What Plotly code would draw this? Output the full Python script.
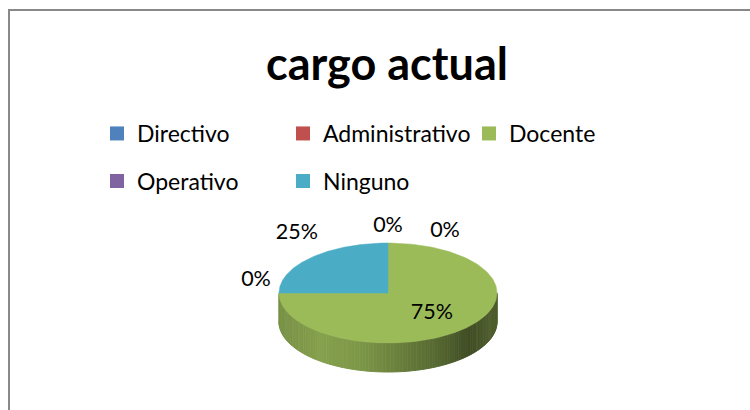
import numpy as np
import plotly.graph_objects as go

# ---- data ----
categories = ["Directivo", "Administrativo", "Docente", "Operativo", "Ninguno"]
percentages = [0, 0, 75, 0, 25]
colors = ["#4F81BD", "#C0504D", "#9BBB59", "#8064A2", "#4BACC6"]
title_text = "cargo actual"

# ---- style / geometry (pixels) ----
W, H = 750, 410
CX, CY, A, B = 388, 293, 109, 50
DEPTH = 29
FONT = "Lato"
label_nudge = [(0, -16), (57, -11), None, (-23, -12), (-14, -24)]
inside_k = 0.57

total = float(sum(percentages))
fracs = [v / total for v in percentages]
cum = np.concatenate([[0], np.cumsum(fracs)])


def ell(phi_deg, k=1.0):
    p = np.radians(phi_deg)
    return CX + A * k * np.cos(p), CY - B * k * np.sin(p)


def phi_of(c):
    return 90.0 - 360.0 * c


def slice_at(c):
    for i in range(len(fracs)):
        if cum[i] <= c < cum[i + 1] and fracs[i] > 0:
            return i
    return None


def hex_rgb(h):
    h = h.lstrip("#")
    return tuple(int(h[i:i + 2], 16) for i in (0, 2, 4))


fig = go.Figure()

# side (3D rim) - front half only
t_knots = [0, .05, .19, .37, .55, .74, .87, .96, 1]
f_knots = [.78, .79, .86, .81, .68, .55, .41, .48, .50]
NS = 120
phis = np.linspace(180, 360, NS + 1)
for j in range(NS):
    p0, p1 = phis[j], phis[j + 1]
    pm = 0.5 * (p0 + p1)
    c = ((90 - pm) % 360) / 360.0
    i = slice_at(c)
    if i is None:
        continue
    arc = np.linspace(p0, p1, 4)
    xs, ys = ell(arc)
    xm, _ = ell(pm)
    t = (xm - (CX - A)) / (2 * A)
    f = np.interp(t, t_knots, f_knots)
    r, g, b = hex_rgb(colors[i])
    col = "rgb(%d,%d,%d)" % (r * f, g * f, b * f)
    px = list(xs) + list(xs[::-1])
    py = list(ys) + list((ys + DEPTH)[::-1])
    fig.add_trace(go.Scatter(x=px, y=py, mode="lines", fill="toself",
                             fillcolor=col, line=dict(color=col, width=1),
                             hoverinfo="skip", showlegend=False))

# top face slices
for i, fr in enumerate(fracs):
    if fr <= 0:
        continue
    arc = np.linspace(phi_of(cum[i]), phi_of(cum[i + 1]), 200)
    xs, ys = ell(arc)
    px = [CX] + list(xs) + [CX]
    py = [CY] + list(ys) + [CY]
    fig.add_trace(go.Scatter(x=px, y=py, mode="lines", fill="toself",
                             fillcolor=colors[i], line=dict(color=colors[i], width=0.5),
                             name=categories[i], hoverinfo="name", showlegend=False))

# data labels
lx, ly, lt = [], [], []
for i, fr in enumerate(fracs):
    pm = phi_of(0.5 * (cum[i] + cum[i + 1]))
    if label_nudge[i] is None:
        x, y = ell(pm, inside_k)
    else:
        x, y = ell(pm)
        x += label_nudge[i][0]
        y += label_nudge[i][1]
    lx.append(x)
    ly.append(y)
    lt.append("%d%%" % round(percentages[i] / total * 100))
fig.add_trace(go.Scatter(x=lx, y=ly, mode="text", text=lt,
                         textfont=dict(family=FONT, size=21.5, color="black"),
                         hoverinfo="skip", showlegend=False))

# legend entries
for i, name in enumerate(categories):
    fig.add_trace(go.Scatter(x=[None], y=[None], mode="markers", name=name,
                             marker=dict(symbol="square", size=14, color=colors[i]),
                             legend="legend" if i < 3 else "legend2"))

leg_common = dict(orientation="h", xanchor="left", yanchor="middle",
                  entrywidth=141, entrywidthmode="pixels",
                  font=dict(family=FONT, size=23, color="black"),
                  bgcolor="rgba(0,0,0,0)", itemclick=False, itemdoubleclick=False)

fig.update_layout(
    width=W, height=H, margin=dict(l=0, r=0, t=0, b=0),
    paper_bgcolor="white", plot_bgcolor="white",
    xaxis=dict(range=[0, W], visible=False, fixedrange=True),
    yaxis=dict(range=[H, 0], visible=False, fixedrange=True),
    title=dict(text="<b>%s</b>" % title_text, x=387 / W, xanchor="center",
               xref="container", yref="container", y=1 - 64 / H, yanchor="middle",
               font=dict(family=FONT, size=45, color="black")),
    legend=dict(x=(117 - 20) / W, y=1 - 133.5 / H, **leg_common),
    legend2=dict(x=(117 - 20) / W, y=1 - 181 / H, **leg_common),
    shapes=[dict(type="rect", xref="paper", yref="paper",
                 x0=9 / W, x1=1.02, y0=-0.02, y1=1 - 10 / H,
                 line=dict(color="#888888", width=2))],
    showlegend=True,
)

fig.write_html("out.html", config={"displayModeBar": False},
               post_script="document.body.style.margin='0px';")
